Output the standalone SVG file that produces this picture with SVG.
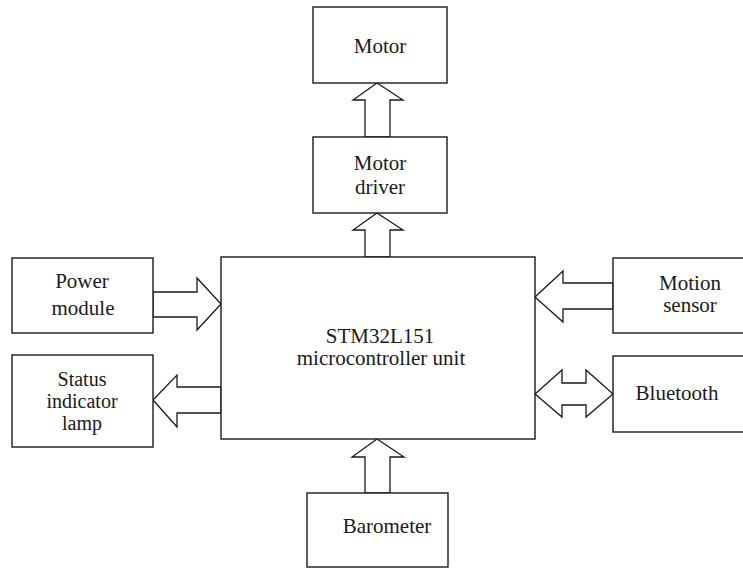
<svg xmlns="http://www.w3.org/2000/svg" width="743" height="570" viewBox="0 0 743 570">
<style>
.box{fill:#fff;stroke:#1a1a1a;stroke-width:1.4}
.arr{fill:#fff;stroke:#1a1a1a;stroke-width:1.3;stroke-linejoin:miter}
.t{font-family:'Liberation Serif','DejaVu Serif',serif;font-size:21px;fill:#1a1a1a;text-anchor:middle}
.s{font-size:20px}
</style>
<rect width="743" height="570" fill="#fff"/>
<g id="connectors">
<polygon class="arr" points="365,137 365,100 353,100 377,83 403,100 390,100 390,137"/>
<polygon class="arr" points="365,257 365,230 353,230 377,213 403,230 390,230 390,257"/>
<polygon class="arr" points="153,292 197,292 197,278 221,304 197,330 197,317 153,317"/>
<polygon class="arr" points="221,387 177,387 177,375 153,400 177,427 177,413 221,413"/>
<polygon class="arr" points="613,283 563,283 563,271 535,297 563,322 563,309 613,309"/>
<polygon class="arr" points="535,394 562,370 562,383 586,383 586,370 613,394 586,417 586,405 562,405 562,417"/>
<polygon class="arr" points="365,493 365,457 352,457 377,439 404,457 390,457 390,493"/>
</g>
<g id="motor">
<rect class="box" x="313" y="7" width="134" height="76"/>
<text class="t" x="380" y="53">Motor</text>
</g>
<g id="motor-driver">
<rect class="box" x="313" y="137" width="134" height="76"/>
<text class="t" x="380" y="170">Motor</text>
<text class="t" x="380" y="194">driver</text>
</g>
<g id="mcu">
<rect class="box" x="221" y="257" width="314" height="182"/>
<text class="t" x="380" y="343">STM32L151</text>
<text class="t" x="381" y="365">microcontroller unit</text>
</g>
<g id="power-module">
<rect class="box" x="12" y="258" width="141" height="75"/>
<text class="t" x="82" y="288">Power</text>
<text class="t" x="83" y="315">module</text>
</g>
<g id="status-lamp">
<rect class="box" x="12" y="355" width="141" height="92"/>
<text class="t s" x="82" y="386">Status</text>
<text class="t s" x="82" y="408">indicator</text>
<text class="t s" x="82" y="430">lamp</text>
</g>
<g id="motion-sensor">
<rect class="box" x="613" y="258" width="140" height="75"/>
<text class="t" x="690" y="290">Motion</text>
<text class="t" x="690" y="312">sensor</text>
</g>
<g id="bluetooth">
<rect class="box" x="613" y="356" width="140" height="76"/>
<text class="t" x="677" y="400">Bluetooth</text>
</g>
<g id="barometer">
<rect class="box" x="307" y="493" width="141" height="74"/>
<text class="t" x="387" y="533">Barometer</text>
</g>
</svg>
